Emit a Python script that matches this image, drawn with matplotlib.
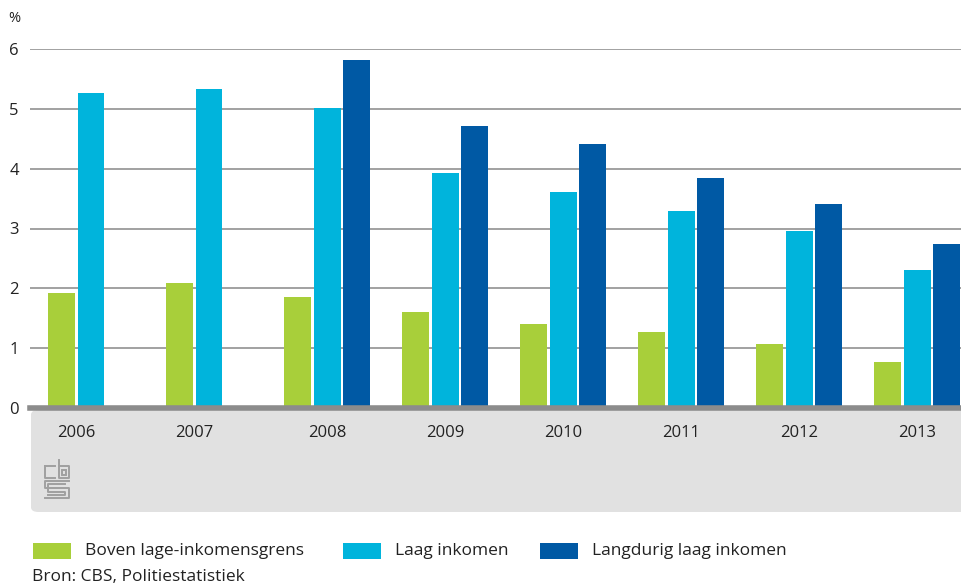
import numpy as np
import matplotlib.pyplot as plt
from matplotlib.patches import FancyBboxPatch, Rectangle

# data
years = ["2006", "2007", "2008", "2009", "2010", "2011", "2012", "2013"]
boven = [1.92, 2.09, 1.86, 1.61, 1.40, 1.27, 1.07, 0.77]
laag = [5.27, 5.33, 5.02, 3.93, 3.61, 3.29, 2.96, 2.31]
langdurig = [None, None, 5.82, 4.72, 4.41, 3.85, 3.41, 2.74]
series_names = ["Boven lage-inkomensgrens", "Laag inkomen", "Langdurig laag inkomen"]
colors = ["#a8cf3a", "#00b4dc", "#0059a4"]

plt.rcParams["font.family"] = ["Open Sans", "DejaVu Sans"]

W, H = 962, 586
fig = plt.figure(figsize=(W / 100, H / 100), dpi=100)

def fx(px):
    return px / W

def fy(py):
    return 1 - py / H

ax = fig.add_axes([fx(30), fy(408), fx(962 - 30), (408 - 49) / H])

x = np.arange(len(years))
step = 0.25
width = 0.228
ax.bar(x - step, boven, width, color=colors[0], zorder=3)
ax.bar(x, laag, width, color=colors[1], zorder=3)
lx = [xi + step for xi, v in zip(x, langdurig) if v is not None]
lv = [v for v in langdurig if v is not None]
ax.bar(lx, lv, width, color=colors[2], zorder=3)

ax.set_xlim(-0.517, 7.38)
ax.set_ylim(0, 6)
ax.set_yticks(range(0, 7))
ax.set_yticklabels([str(v) for v in range(0, 7)], fontsize=12, color="#222222")
for lab in ax.get_yticklabels():
    lab.set_horizontalalignment("left")
ax.tick_params(axis="y", length=0, pad=15)
ax.set_xticks([])
ax.grid(axis="y", color="#9a9a9a", linewidth=1.3, zorder=0)
for s in ax.spines.values():
    s.set_visible(False)
ax.axhline(0, color="#8c8c8c", linewidth=4, zorder=4, clip_on=False)

# grey panel below the axis
panel = FancyBboxPatch((fx(31), fy(512)), fx(962 - 31) + 0.02, (512 - 410) / H,
                       boxstyle="round,pad=0,rounding_size=0.008",
                       transform=fig.transFigure, facecolor="#e1e1e1",
                       edgecolor="none", zorder=-1)
fig.patches.append(panel)

for i, yr in enumerate(years):
    cx = i - step / 2 if langdurig[i] is None else i
    xp = ax.transData.transform((cx, 0))[0]
    fig.text(xp / W, fy(433), yr, ha="center", va="center", fontsize=12, color="#222222")

# simple cbs logo sketch
logo = fig.add_axes([fx(44), fy(499), fx(27), 40 / H], zorder=5)
logo.set_xlim(0, 26)
logo.set_ylim(0, 40)
logo.axis("off")
lc = "#a0a0a0"
lw = 1.4
logo.plot([1, 1, 11], [33, 21, 21], color=lc, lw=lw)
logo.plot([1, 11], [33, 33], color=lc, lw=lw)
logo.plot([14, 14, 24, 24, 14], [39, 21, 21, 33, 33], color=lc, lw=lw)
logo.add_patch(Rectangle((17, 24), 4, 5, fill=False, edgecolor=lc, lw=lw))
logo.plot([24, 1, 1, 24, 24, 1], [18, 18, 11, 11, 1, 1], color=lc, lw=lw)
logo.plot([20, 4, 4, 20, 20, 4], [15, 15, 7.5, 7.5, 4.5, 4.5], color=lc, lw=lw)

fig.text(fx(8), fy(18), "%", fontsize=10.5, color="#222222", va="center")

# legend
leg_x = [33, 343, 540]
for px, name, c in zip(leg_x, series_names, colors):
    fig.patches.append(Rectangle((fx(px), fy(559)), fx(38), 16 / H,
                                 transform=fig.transFigure, facecolor=c, edgecolor="none"))
    fig.text(fx(px + 52), fy(551), name, fontsize=12.5, color="#222222", va="center")

fig.text(fx(32), fy(577), "Bron: CBS, Politiestatistiek", fontsize=12.5, color="#222222", va="center")

fig.savefig("out.png", dpi=100)
